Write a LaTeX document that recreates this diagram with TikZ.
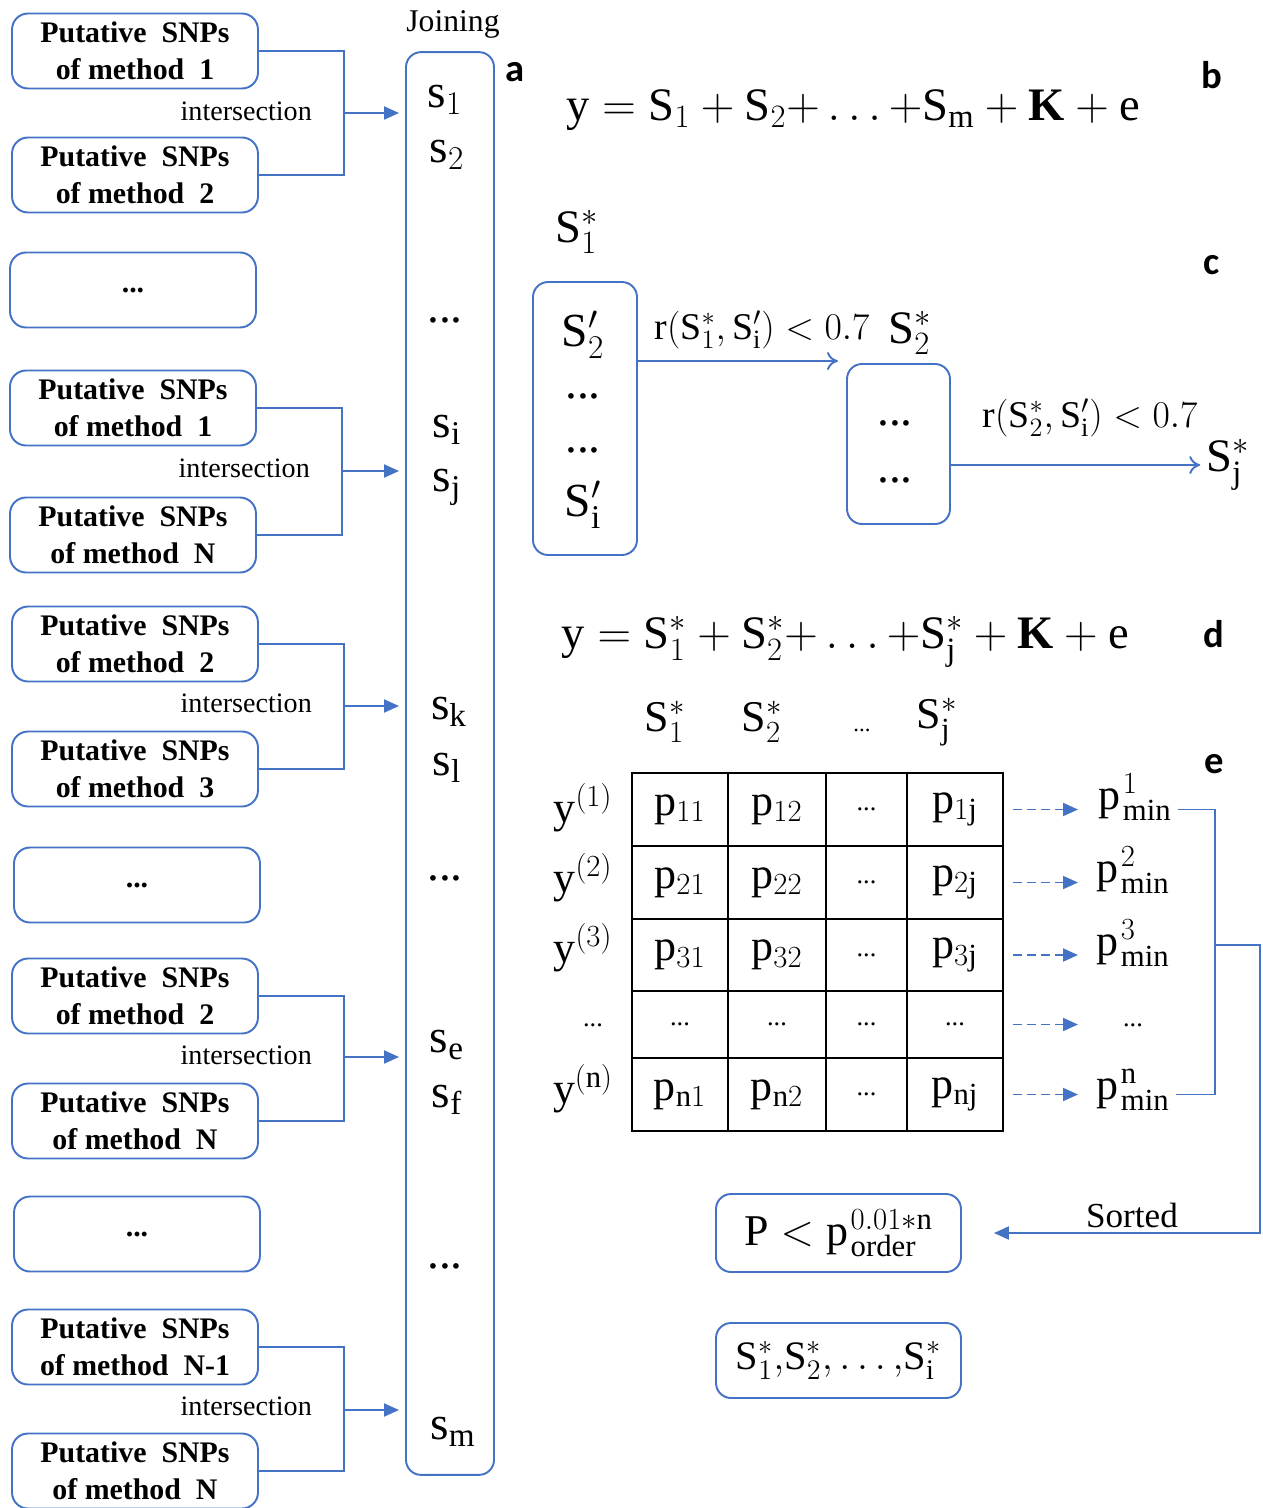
\RequirePackage{fix-cm}
\documentclass[tikz,border=0pt]{standalone}
\usepackage{fontspec}
\setmainfont{Liberation Serif}
\newfontfamily\panelfont{Carlito}
\usetikzlibrary{arrows.meta}
\definecolor{boxblue}{HTML}{4472C4}

\begin{document}
\begin{tikzpicture}[x=0.02cm, y=-0.02cm,
  snp/.style={draw=boxblue, line width=1.1pt, rounded corners=0.32cm, minimum width=4.92cm, minimum height=1.5cm, inner sep=0pt, align=center, font=\bfseries\fontsize{17}{21}\selectfont},
  link/.style={draw=boxblue, line width=1.1pt},
  filltip/.style={-{Triangle[length=0.3cm,width=0.26cm]}},
  rbox/.style={draw=boxblue, line width=1.1pt, rounded corners=0.3cm, inner sep=0pt},
  panel/.style={font=\panelfont\bfseries\fontsize{22}{24}\selectfont},
  isect/.style={font=\fontsize{16}{18}\selectfont},
  eqn/.style={font=\fontsize{26.5}{30}\selectfont},
  sym/.style={font=\fontsize{27}{30}\selectfont},
  lbl/.style={font=\fontsize{25}{28}\selectfont},
  dotfont/.style={font=\fontsize{15}{18}\selectfont},
  cell/.style={draw=black, line width=1.1pt, inner sep=0pt, font=\fontsize{25}{28}\selectfont}]
\useasboundingbox (0,0) rectangle (1263,1508);
\node[snp] (a1) at (135,51) {Putative\ \ SNPs\\of method\ \ 1};
\node[snp] (a2) at (135,175) {Putative\ \ SNPs\\of method\ \ 2};
\node[snp] (dots1) at (133,290) {...};
\node[snp] (b1) at (133,408) {Putative\ \ SNPs\\of method\ \ 1};
\node[snp] (b2) at (133,535) {Putative\ \ SNPs\\of method\ \ N};
\node[snp] (c1) at (135,644) {Putative\ \ SNPs\\of method\ \ 2};
\node[snp] (c2) at (135,769) {Putative\ \ SNPs\\of method\ \ 3};
\node[snp] (dots2) at (137,885) {...};
\node[snp] (d1) at (135,996) {Putative\ \ SNPs\\of method\ \ 2};
\node[snp] (d2) at (135,1121) {Putative\ \ SNPs\\of method\ \ N};
\node[snp] (dots3) at (137,1234) {...};
\node[snp] (e1) at (135,1347) {Putative\ \ SNPs\\of method\ \ N-1};
\node[snp] (e2) at (135,1471) {Putative\ \ SNPs\\of method\ \ N};
\node[rbox, minimum width=1.76cm, minimum height=28.46cm] (join) at (450,763.5) {};
\node[font=\fontsize{18}{20}\selectfont] (joinlab) at (453,24) {Joining};
\coordinate (ja) at (344,113);
\coordinate (jb) at (342,471);
\coordinate (jc) at (344,706);
\coordinate (jd) at (344,1057);
\coordinate (je) at (344,1410);
\draw[link] (a1.east) -| (ja) |- (a2.east);
\draw[link] (b1.east) -| (jb) |- (b2.east);
\draw[link] (c1.east) -| (jc) |- (c2.east);
\draw[link] (d1.east) -| (jd) |- (d2.east);
\draw[link] (e1.east) -| (je) |- (e2.east);
\draw[link, filltip, shorten >=0.12cm] (ja) -- (ja -| join.west);
\draw[link, filltip, shorten >=0.12cm] (jb) -- (jb -| join.west);
\draw[link, filltip, shorten >=0.12cm] (jc) -- (jc -| join.west);
\draw[link, filltip, shorten >=0.12cm] (jd) -- (jd -| join.west);
\draw[link, filltip, shorten >=0.12cm] (je) -- (je -| join.west);
\node[isect, anchor=east] (ia) at (318,111) {intersection};
\node[isect, anchor=east] (ib) at (316,468) {intersection};
\node[isect, anchor=east] (ic) at (318,703) {intersection};
\node[isect, anchor=east] (id) at (318,1055) {intersection};
\node[isect, anchor=east] (ie) at (318,1406) {intersection};
\node[sym] (s1) at (445,100) {$\mathrm{s}_1$};
\node[sym] (s2) at (447,155) {$\mathrm{s}_2$};
\node[sym] (sd1) at (445,320) {...};
\node[sym] (si) at (447,430) {$\mathrm{s}_\mathrm{i}$};
\node[sym] (sj) at (447,487) {$\mathrm{s}_\mathrm{j}$};
\node[sym] (sk) at (449,712) {$\mathrm{s}_\mathrm{k}$};
\node[sym] (sl) at (447,768) {$\mathrm{s}_\mathrm{l}$};
\node[sym] (sd2) at (445,878) {...};
\node[sym] (se) at (447,1045) {$\mathrm{s}_\mathrm{e}$};
\node[sym] (sf) at (447,1100) {$\mathrm{s}_\mathrm{f}$};
\node[sym] (sd3) at (445,1266) {...};
\node[sym] (sm) at (453,1432) {$\mathrm{s}_\mathrm{m}$};
\node[panel] (pa) at (515,72) {a};
\node[panel] (pb) at (1212,75) {b};
\node[panel] (pc) at (1212,265) {c};
\node[panel] (pd) at (1214,634) {d};
\node[panel] (pe) at (1214,764) {e};
\node[eqn] (eqb) at (853,110) {$\mathrm{y}=\mathrm{S}_1+\mathrm{S}_2{+}\ldots{+}\mathrm{S}_\mathrm{m}+\mathbf{K}+\mathrm{e}$};
\node[eqn] (top1) at (577,232) {$\mathrm{S}_1^*$};
\node[rbox, minimum width=2.08cm, minimum height=5.46cm] (cand) at (585,418.5) {};
\node[sym] (cs2) at (583,335) {$\mathrm{S}_2^{\prime}$};
\node[sym] (cd1) at (583,396) {...};
\node[sym] (cd2) at (583,450) {...};
\node[sym] (csi) at (583,505) {$\mathrm{S}_\mathrm{i}^{\prime}$};
\node[rbox, minimum width=2.06cm, minimum height=3.2cm] (rest) at (898.5,444) {};
\node[sym] (rd1) at (895,423) {...};
\node[sym] (rd2) at (895,480) {...};
\coordinate (ca) at (838,361);
\draw[link, -{To[length=0.22cm,width=0.36cm]}] (cand.east |- ca) -- (ca);
\node[font=\fontsize{21.5}{26}\selectfont] (ra) at (762,330) {$\mathrm{r}(\mathrm{S}_1^*,\mathrm{S}_\mathrm{i}^{\prime}) < 0.7$};
\node[eqn] (top2) at (910,333) {$\mathrm{S}_2^*$};
\node[eqn] (topj) at (1228,465) {$\mathrm{S}_\mathrm{j}^*$};
\draw[link, -{To[length=0.22cm,width=0.36cm]}] (rest.east |- topj.west) -- (topj.west);
\node[font=\fontsize{21.5}{26}\selectfont] (rb) at (1090,418) {$\mathrm{r}(\mathrm{S}_2^*,\mathrm{S}_\mathrm{i}^{\prime}) < 0.7$};
\node[eqn] (eqd) at (845,642) {$\mathrm{y}=\mathrm{S}_1^*+\mathrm{S}_2^*{+}\ldots{+}\mathrm{S}_\mathrm{j}^*+\mathbf{K}+\mathrm{e}$};
\node[lbl] (h1) at (665,722) {$\mathrm{S}_1^*$};
\node[lbl] (h2) at (762,722) {$\mathrm{S}_2^*$};
\node[font=\fontsize{13}{16}\selectfont] (h3) at (862,730) {...};
\node[lbl] (hj) at (937,722) {$\mathrm{S}_\mathrm{j}^*$};
\node[cell, minimum width=1.92cm, minimum height=1.46cm] (p11) at (680,809.5) {$\mathrm{p}_{11}$};
\node[cell, minimum width=1.96cm, minimum height=1.46cm] (p12) at (777,809.5) {$\mathrm{p}_{12}$};
\node[cell, dotfont, minimum width=1.62cm, minimum height=1.46cm] (p13) at (866.5,809.5) {...};
\node[cell, minimum width=1.92cm, minimum height=1.46cm] (p1j) at (955,809.5) {$\mathrm{p}_{1\mathrm{j}}$};
\node[cell, minimum width=1.92cm, minimum height=1.46cm] (p21) at (680,882.5) {$\mathrm{p}_{21}$};
\node[cell, minimum width=1.96cm, minimum height=1.46cm] (p22) at (777,882.5) {$\mathrm{p}_{22}$};
\node[cell, dotfont, minimum width=1.62cm, minimum height=1.46cm] (p23) at (866.5,882.5) {...};
\node[cell, minimum width=1.92cm, minimum height=1.46cm] (p2j) at (955,882.5) {$\mathrm{p}_{2\mathrm{j}}$};
\node[cell, minimum width=1.92cm, minimum height=1.44cm] (p31) at (680,955) {$\mathrm{p}_{31}$};
\node[cell, minimum width=1.96cm, minimum height=1.44cm] (p32) at (777,955) {$\mathrm{p}_{32}$};
\node[cell, dotfont, minimum width=1.62cm, minimum height=1.44cm] (p33) at (866.5,955) {...};
\node[cell, minimum width=1.92cm, minimum height=1.44cm] (p3j) at (955,955) {$\mathrm{p}_{3\mathrm{j}}$};
\node[cell, dotfont, minimum width=1.92cm, minimum height=1.34cm] (pd1) at (680,1024.5) {...};
\node[cell, dotfont, minimum width=1.96cm, minimum height=1.34cm] (pd2) at (777,1024.5) {...};
\node[cell, dotfont, minimum width=1.62cm, minimum height=1.34cm] (pd3) at (866.5,1024.5) {...};
\node[cell, dotfont, minimum width=1.92cm, minimum height=1.34cm] (pdj) at (955,1024.5) {...};
\node[cell, minimum width=1.92cm, minimum height=1.46cm] (pn1) at (680,1094.5) {$\mathrm{p}_{\mathrm{n}1}$};
\node[cell, minimum width=1.96cm, minimum height=1.46cm] (pn2) at (777,1094.5) {$\mathrm{p}_{\mathrm{n}2}$};
\node[cell, dotfont, minimum width=1.62cm, minimum height=1.46cm] (pn3) at (866.5,1094.5) {...};
\node[cell, minimum width=1.92cm, minimum height=1.46cm] (pnj) at (955,1094.5) {$\mathrm{p}_{\mathrm{n}\mathrm{j}}$};
\node[lbl] (y1) at (583,808) {$\mathrm{y}^{(1)}$};
\node[lbl] (y2) at (583,878) {$\mathrm{y}^{(2)}$};
\node[lbl] (y3) at (583,948) {$\mathrm{y}^{(3)}$};
\node[dotfont] (yd) at (593,1025) {...};
\node[lbl] (yn) at (583,1089) {$\mathrm{y}^{(\mathrm{n})}$};
\node[lbl] (m1) at (1135,797) {$\mathrm{p}\mkern1mu_{\mathrm{min}}^1$};
\node[lbl] (m2) at (1133,870) {$\mathrm{p}\mkern1mu_{\mathrm{min}}^2$};
\node[lbl] (m3) at (1133,943) {$\mathrm{p}\mkern1mu_{\mathrm{min}}^3$};
\node[dotfont] (md) at (1133,1025) {...};
\node[lbl] (mn) at (1133,1090) {$\mathrm{p}\mkern1mu_{\mathrm{min}}^\mathrm{n}$};
\draw[link, dash pattern=on 5pt off 3pt, filltip, shorten <=0.18cm] (p1j.east) -- (p1j.east -| 1078,0);
\draw[link, dash pattern=on 5pt off 3pt, filltip, shorten <=0.18cm] (p2j.east) -- (p2j.east -| 1078,0);
\draw[link, dash pattern=on 5pt off 3pt, filltip, shorten <=0.18cm] (p3j.east) -- (p3j.east -| 1078,0);
\draw[link, dash pattern=on 5pt off 3pt, filltip, shorten <=0.18cm] (pdj.east) -- (pdj.east -| 1078,0);
\draw[link, dash pattern=on 5pt off 3pt, filltip, shorten <=0.18cm] (pnj.east) -- (pnj.east -| 1078,0);
\coordinate (br) at (1215,945);
\coordinate (sortc) at (1260,945);
\draw[link] (m1.east |- p1j.east) -| (br) |- (mn.east |- pnj.east);
\node[rbox, minimum width=4.9cm, minimum height=1.56cm, font=\fontsize{25}{28}\selectfont] (pcut) at (838.5,1233) {$\mathrm{P} < \mathrm{p}\mkern1mu_{\mathrm{order}}^{0.01*\mathrm{n}}$};
\node[rbox, minimum width=4.9cm, minimum height=1.5cm, font=\fontsize{23}{26}\selectfont] (sel) at (838.5,1360.5) {$\mathrm{S}_1^*{,}\mathrm{S}_2^*{,}\ldots{,}\mathrm{S}_\mathrm{i}^*$};
\draw[link, filltip, shorten >=0.64cm] (br) -- (sortc) |- (pcut.east);
\node[font=\fontsize{20}{24}\selectfont] (sorted) at (1132,1215) {Sorted};
\end{tikzpicture}
\end{document}
